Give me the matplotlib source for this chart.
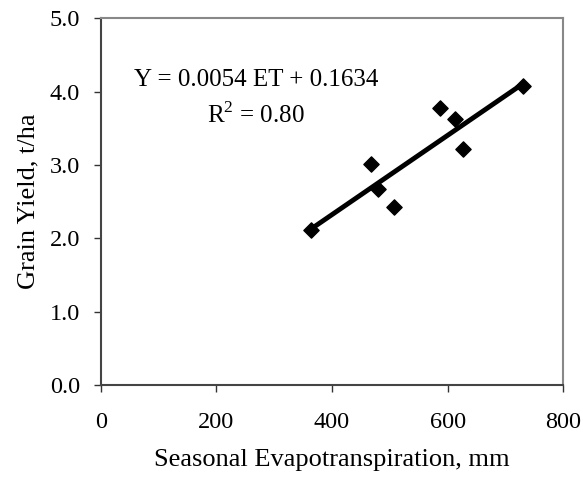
import matplotlib
matplotlib.use("Agg")
import matplotlib.pyplot as plt
import numpy as np

et_mm = [364, 468, 480, 508, 586, 612, 626, 730]
yield_tha = [2.11, 3.01, 2.67, 2.43, 3.78, 3.63, 3.22, 4.07]
slope = 0.0054
intercept = 0.1634
x_ticks = [0, 200, 400, 600, 800]
y_ticks = [0.0, 1.0, 2.0, 3.0, 4.0, 5.0]

plt.rcParams['font.family'] = ['Liberation Serif', 'DejaVu Serif']
plt.rcParams['mathtext.fontset'] = 'custom'
plt.rcParams['mathtext.rm'] = 'Liberation Serif'

fig = plt.figure(figsize=(5.83, 4.79), dpi=100)
ax = fig.add_axes([0.173, 0.196, 0.793, 0.766])

xs = np.array([min(et_mm), max(et_mm)])
ax.plot(xs, slope * xs + intercept, color='black', lw=3.5, solid_capstyle='butt', zorder=2)
ax.scatter(et_mm, yield_tha, marker='D', s=60, color='black', zorder=3)

ax.set_xlim(0, 800)
ax.set_ylim(0, 5)
ax.set_xticks(x_ticks)
ax.set_xticklabels([str(v) for v in x_ticks])
ax.set_yticks(y_ticks)
ax.set_yticklabels([f"{v:.1f}" for v in y_ticks])
ax.tick_params(axis='both', labelsize=17.5, direction='out', length=5, width=1, color='#333333')
ax.tick_params(axis='x', pad=14)
ax.tick_params(axis='y', pad=10)

for side in ['left', 'bottom']:
    ax.spines[side].set_color('#444444')
    ax.spines[side].set_linewidth(1.5)
for side in ['top', 'right']:
    ax.spines[side].set_color('#888888')
    ax.spines[side].set_linewidth(1.5)

ax.set_xlabel('Seasonal Evapotranspiration, mm', fontsize=19, labelpad=12)
ax.set_ylabel('Grain Yield, t/ha', fontsize=19, labelpad=7)

ax.text(269, 4.07, f'Y = {slope:.4f} ET + {intercept:.4f}', fontsize=18, ha='center', va='baseline')
ax.text(269, 3.57, r'R$^{2}$ = 0.80', fontsize=18, ha='center', va='baseline')

fig.savefig('out.png', dpi=100)
